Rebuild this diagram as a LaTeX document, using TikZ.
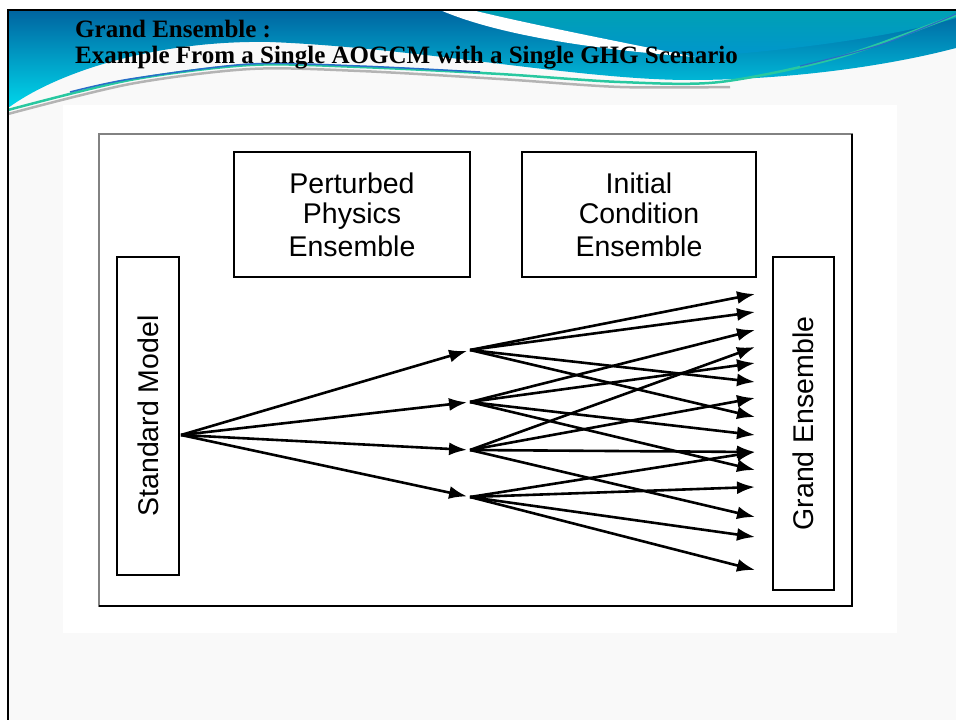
\documentclass[tikz,border=0pt]{standalone}
\usepackage{fontspec}
\setmainfont{Liberation Serif}
\newfontfamily\arialf{Liberation Sans}
\usetikzlibrary{arrows.meta}
\definecolor{hdrtop}{RGB}{0,100,160}
\definecolor{hdrmid}{RGB}{0,138,204}
\definecolor{hdrbot}{RGB}{0,215,235}
\definecolor{tealtop}{RGB}{0,160,180}
\definecolor{tealbot}{RGB}{0,150,205}
\definecolor{wavegreen}{RGB}{40,200,160}
\definecolor{waveblue}{RGB}{40,110,200}
\definecolor{wavegrey}{RGB}{180,180,180}
\definecolor{slidebg}{RGB}{249,249,249}
\definecolor{framegrey}{RGB}{130,130,130}
\begin{document}
\begin{tikzpicture}[x=1pt,y=-1pt,
  box/.style={draw=black,line width=2.6pt,align=center,inner sep=0pt,
    font=\arialf\fontsize{28.5}{33}\selectfont},
  arr/.style={line width=2.6pt,-{Latex[length=18pt,width=13pt]}},
  titletext/.style={anchor=base west,inner sep=0pt,
    font=\bfseries\fontsize{25}{26}\selectfont}]
\useasboundingbox (0,0) rectangle (956,720);
\fill[white] (0,0) rectangle (956,720);
% slide background
\fill[slidebg] (8,10) rectangle (956,720);
\fill[white] (63,105) rectangle (897,633);
% header band
\shade[top color=hdrtop, middle color=hdrmid, bottom color=hdrbot]
  (8,10) -- (956,10) -- (956,48) .. controls (880,68) and (780,80) .. (690,80)
  .. controls (580,80) and (420,48) .. (270,42)
  .. controls (160,40) and (60,70) .. (8,108) -- cycle;
\shade[top color=tealtop, bottom color=tealbot]
  (472,10) -- (956,10) -- (956,18) .. controls (900,35) and (800,50) .. (695,57)
  .. controls (610,40) and (520,22) .. (472,10) -- cycle;
\fill[white] (440,10) -- (472,10) .. controls (520,22) and (610,40) .. (695,57)
  .. controls (600,50) and (500,36) .. (440,10) -- cycle;
% wave strokes
\draw[wavegrey, line width=2.5pt] plot[smooth] coordinates
  {(8,114) (130,84) (250,69) (360,71) (500,79) (620,87) (730,87)};
\draw[wavegreen, line width=2.5pt] plot[smooth] coordinates
  {(8,110) (130,80) (250,65) (360,67) (500,74) (620,82) (720,82) (840,57) (956,15)};
\draw[waveblue, line width=1.5pt] plot[smooth] coordinates
  {(70,92) (130,79) (250,64) (360,66) (480,72)};
\draw[waveblue, line width=1.2pt] plot[smooth] coordinates
  {(800,66) (880,45) (956,14)};
% slide frame
\draw[black, line width=2.5pt] (8,720) -- (8,10) -- (956,10);
% title
\node[titletext] (t1) at (75,37) {Grand Ensemble :};
\node[titletext] (t2) at (75,63) {Example From a Single AOGCM with a Single GHG Scenario};
% diagram frame
\draw[framegrey, line width=2.5pt] (99,134) rectangle (852,606);
\draw[black, line width=2pt] (852,134) -- (852,606) -- (99,606);
% boxes
\node[box, minimum width=236, minimum height=125] (pp) at (352,214.5) {\raisebox{-3pt}{Perturbed}\\Physics\\Ensemble};
\node[box, minimum width=234, minimum height=125] (ic) at (639,214.5) {\raisebox{-3pt}{Initial}\\Condition\\Ensemble};
\node[box, rotate=90, minimum width=318, minimum height=62] (sm) at (148,416) {Standard Model};
\node[box, rotate=90, minimum width=333, minimum height=61] (ge) at (803.5,423.5) {Grand Ensemble};
% arrows
\coordinate (src) at (181,435);
\coordinate (m1) at (470,350);
\coordinate (m2) at (470,402);
\coordinate (m3) at (470,450);
\coordinate (m4) at (470,497);
\foreach \y in {294,312,330,347,363,382,398,417,435,452,470,487,517,537,570}
  \coordinate (e\y) at (755,\y);
\foreach \m in {m1,m2,m3,m4}
  \draw[arr, shorten >=3pt] (src) -- (\m);
\foreach \m/\e in {m1/e294,m1/e312,m1/e382,m1/e417,
                   m2/e330,m2/e363,m2/e435,m2/e470,
                   m3/e347,m3/e398,m3/e452,m3/e517,
                   m4/e452,m4/e487,m4/e537,m4/e570}
  \draw[arr] (\m) -- (\e);
\end{tikzpicture}
\end{document}
